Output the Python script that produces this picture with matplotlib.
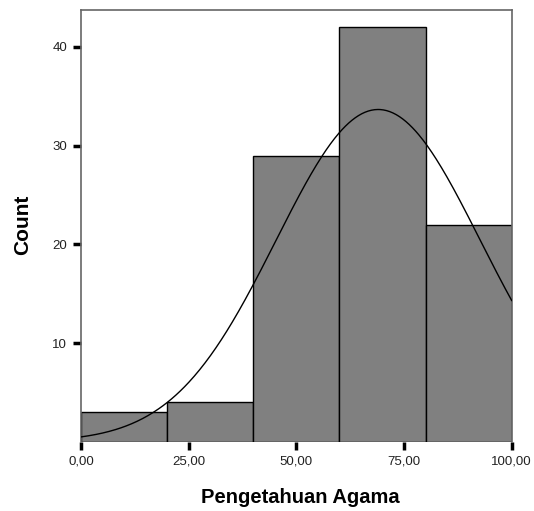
import numpy as np
import matplotlib.pyplot as plt

plt.rcParams['font.family'] = ['Liberation Sans', 'DejaVu Sans']

# histogram bins and counts
bin_edges = [0, 20, 40, 60, 80, 100]
counts = [3, 4, 29, 42, 22]

# fitted normal curve parameters (as shown by SPSS)
curve_mean = 69.0
curve_sd = 23.7
n_total = 100

x_ticks = [0, 25, 50, 75, 100]
x_tick_labels = ['0,00', '25,00', '50,00', '75,00', '100,00']
y_ticks = [10, 20, 30, 40]


def main():
    fig = plt.figure(figsize=(5.34, 5.11), dpi=100)
    ax = fig.add_axes([0.1517, 0.1356, 0.8065, 0.8439])

    lefts = bin_edges[:-1]
    widths = np.diff(bin_edges)
    ax.bar(lefts, counts, width=widths, align='edge', color='#808080',
           edgecolor='black', linewidth=1.0, zorder=2)

    bw = widths[0]
    xs = np.linspace(0, 100, 400)
    ys = n_total * bw / (curve_sd * np.sqrt(2 * np.pi)) * \
        np.exp(-(xs - curve_mean) ** 2 / (2 * curve_sd ** 2))
    ax.plot(xs, ys, color='black', linewidth=1.0, zorder=3)

    ax.set_xlim(0, 100)
    ax.set_ylim(0, 43.7)
    ax.set_xticks(x_ticks)
    ax.set_xticklabels(x_tick_labels)
    ax.set_yticks(y_ticks)
    ax.tick_params(axis='both', direction='out', length=6, width=2.5,
                   color='black', labelsize=9.5, labelcolor='#222222', pad=4)

    for side in ['top', 'right', 'left']:
        ax.spines[side].set_color('#666666')
        ax.spines[side].set_linewidth(1.2)
    ax.spines['bottom'].set_visible(False)

    # axis titles placed in figure pixels
    fig.text(300 / 534, 1 - 497 / 511, 'Pengetahuan Agama', fontsize=14.5,
             fontweight='bold', ha='center', va='center')
    fig.text(23 / 534, 1 - 225 / 511, 'Count', fontsize=15,
             fontweight='bold', ha='center', va='center', rotation=90)

    fig.savefig('out.png', dpi=100)


if __name__ == '__main__':
    main()
